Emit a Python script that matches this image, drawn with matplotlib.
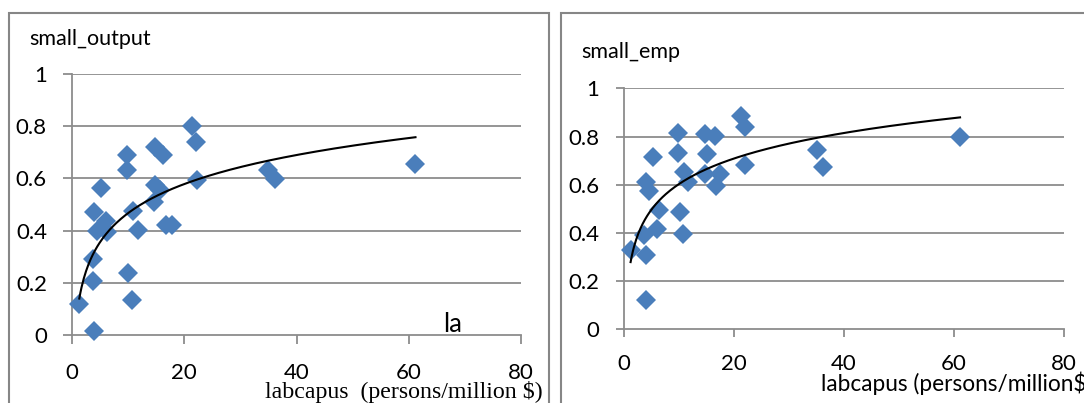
import numpy as np
import matplotlib
matplotlib.use("Agg")
import matplotlib.pyplot as plt
from matplotlib.patches import Rectangle

# ---- data ----
out_x = [1.3, 4.0, 3.8, 3.7, 4.0, 4.4, 5.1, 6.0, 6.3, 9.8, 9.8, 10.0, 10.7, 10.8,
         11.7, 14.6, 14.8, 15.6, 14.8, 16.3, 16.8, 17.8, 21.4, 22.1, 22.3, 35.0, 36.2, 61.2]
out_y = [0.12, 0.017, 0.207, 0.29, 0.47, 0.398, 0.563, 0.436, 0.394, 0.691, 0.631, 0.239,
         0.135, 0.475, 0.402, 0.509, 0.576, 0.555, 0.72, 0.691, 0.42, 0.42, 0.799, 0.738,
         0.592, 0.634, 0.598, 0.656]

emp_x = [1.2, 4.0, 4.0, 3.6, 4.0, 4.6, 5.2, 6.4, 6.0, 9.8, 9.8, 10.1, 10.7, 10.9,
         11.6, 14.8, 15.0, 14.8, 16.5, 16.8, 17.5, 21.3, 22.0, 22.0, 35.1, 36.2, 61.1]
emp_y = [0.328, 0.121, 0.307, 0.39, 0.611, 0.574, 0.714, 0.497, 0.418, 0.814, 0.731,
         0.487, 0.394, 0.652, 0.611, 0.811, 0.728, 0.643, 0.804, 0.593, 0.643, 0.887,
         0.839, 0.68, 0.744, 0.675, 0.80]

x_ticks = [0, 20, 40, 60, 80]
y_ticks = [0, 0.2, 0.4, 0.6, 0.8, 1.0]
y_ticklabels = ["0", "0.2", "0.4", "0.6", "0.8", "1"]

W, H = 1084, 403
fig = plt.figure(figsize=(W / 100, H / 100), dpi=100)
fig.patch.set_facecolor("white")

SANS = ["Lato", "DejaVu Sans"]
SERIF = ["Liberation Serif", "DejaVu Serif"]
GRID = "#8c8c8c"
BLUE = "#4a7ebb"


def px_axes(x0, x1, y0, y1):
    # x0,x1 horizontal pixels; y0 = pixel row of value 0, y1 = pixel row of value 1
    return fig.add_axes([x0 / W, (H - y0) / H, (x1 - x0) / W, (y0 - y1) / H])


def style(ax, xs, ys, ticklen, ypad, xpad):
    ax.set_xlim(0, 80)
    ax.set_ylim(0, 1)
    ax.set_xticks(x_ticks)
    ax.set_xticklabels([str(t) for t in x_ticks], family=SANS, fontsize=16)
    ax.set_yticks(y_ticks)
    ax.set_yticklabels(y_ticklabels, family=SANS, fontsize=16)
    for s in ["top", "right"]:
        ax.spines[s].set_visible(False)
    for s in ["left", "bottom"]:
        ax.spines[s].set_color(GRID)
        ax.spines[s].set_linewidth(1.3)
    ax.tick_params(axis="y", length=ticklen, width=1.3, color=GRID, pad=ypad)
    ax.tick_params(axis="x", length=ticklen, width=1.3, color=GRID, pad=xpad)
    for yv in y_ticks[1:]:
        ax.axhline(yv, color=GRID, lw=1.3, zorder=1)
    ax.plot(xs, ys, linestyle="none", marker="D", markersize=9.8,
            markerfacecolor=BLUE, markeredgewidth=0, clip_on=False, zorder=3)
    # logarithmic trendline fitted to the data (like the spreadsheet trendline)
    b, a = np.polyfit(np.log(xs), ys, 1)
    tx = np.linspace(min(xs), max(xs), 300)
    ax.plot(tx, a + b * np.log(tx), color="black", lw=1.5, zorder=4)


ax1 = px_axes(72, 521, 335, 74)
style(ax1, out_x, out_y, 6.5, 11.5, 13.5)
ax2 = px_axes(624, 1064, 329.3, 88.3)
style(ax2, emp_x, emp_y, 5.8, 12, 12)

# chart borders
fig.add_artist(Rectangle((9 / W, -0.2), (549 - 9) / W, 1.2 - 13 / H,
                         transform=fig.transFigure, fill=False,
                         edgecolor="#868686", lw=1.5))
fig.add_artist(Rectangle((561 / W, -0.2), 0.6, 1.2 - 13 / H,
                         transform=fig.transFigure, fill=False,
                         edgecolor="#868686", lw=1.5))

# texts
fig.text(29 / W, (H - 45) / H, "small_output", family=SANS, fontsize=15.5,
         va="baseline", ha="left")
fig.text(581 / W, (H - 58) / H, "small_emp", family=SANS, fontsize=15.5,
         va="baseline", ha="left")
fig.text(443 / W, (H - 332) / H, "la", family=SANS, fontsize=18.5,
         va="baseline", ha="left")
fig.text(265 / W, (H - 398) / H, "labcapus  (persons/million $)", family=SERIF,
         fontsize=17.2, va="baseline", ha="left")
fig.text(821 / W, (H - 391) / H, "labcapus (persons/million$)", family=SANS,
         fontsize=16.3, va="baseline", ha="left")

fig.savefig("out.png", dpi=100, facecolor="white")
